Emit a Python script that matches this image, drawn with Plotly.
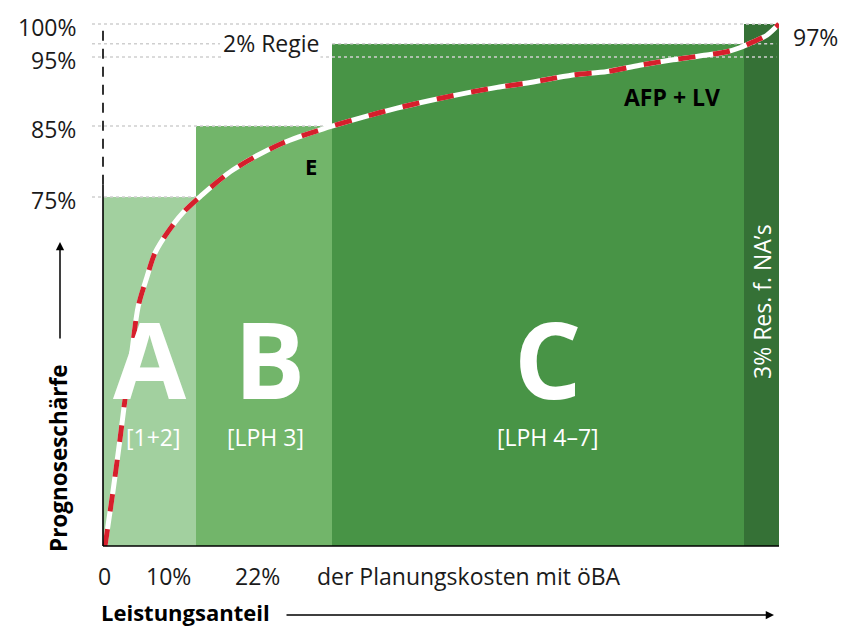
import numpy as np
import plotly.graph_objects as go

# ---------------- data ----------------
segment_names = ["A", "B", "C", "Res"]
segment_widths = [13.8, 20.1, 60.9, 5.2]      # horizontal share (schematic)
segment_levels = [75, 85, 97, 100]            # Prognoseschärfe in %
segment_colors = ["#a2d09f", "#72b56a", "#489446", "#357136"]
phase_labels = ["[1+2]", "[LPH 3]", "[LPH 4–7]"]

y_tick_vals = [75, 85, 95, 100]
y_tick_text = ["75%", "85%", "95%", "100%"]
x_tick_text = ["0", "10%", "22%", "der Planungskosten mit öBA"]

curve_x = [0.3, 1.5, 2.5, 3.3, 4.3, 5.2, 6.5, 7.7, 9.5, 11.8, 14.3, 19.2, 26.6,
           33.6, 38.5, 43.5, 48.4, 53.3, 58.3, 63.2, 69.5, 74.6, 79.4, 84.3,
           89.3, 92.3, 94.2, 96.2, 98.2, 100.0]
curve_y = [0.0, 12.0, 22.8, 32.0, 42.1, 51.4, 57.8, 63.0, 67.3, 71.6, 75.0, 78.8,
           82.6, 84.9, 86.3, 87.6, 88.7, 89.7, 90.6, 91.3, 92.4, 92.9, 93.8,
           94.6, 95.3, 95.8, 96.4, 97.3, 98.3, 100.0]

# schematic, piecewise-linear vertical scale of the original figure
scale_pct = [0, 75, 85, 95, 100]
scale_pos = [0, 66.86, 80.46, 93.68, 100]


def ys(v):
    return np.interp(v, scale_pct, scale_pos)


# pixel helpers for text placement (plot area: x 92..779, y 14..550)
def PX(x):
    return (x - 92) / 687


def PY(y):
    return (550 - y) / 536


FONT = "Open Sans"
TXT = "#1a1a1a"
FS = 23

widths = np.array(segment_widths)
centers = np.cumsum(widths) - widths / 2
edges = np.concatenate([[0], np.cumsum(widths)])

fig = go.Figure()

fig.add_trace(go.Bar(
    x=centers, y=ys(segment_levels), width=widths, base=0,
    marker=dict(color=segment_colors, line=dict(width=0)),
    hoverinfo="skip", showlegend=False,
))

# dotted guide lines
xl = -1.627
dot = dict(color="#cfcfcf", width=1.6, dash="dot")
guides = [
    ([xl, 100], [ys(100)] * 2),
    ([xl, 17.3, None, edges[2], 99.6], [ys(97), ys(97), None, ys(97), ys(97)]),
    ([xl, 99.6], [ys(95)] * 2),
    ([xl, edges[2]], [ys(85)] * 2),
    ([xl, edges[1]], [ys(75)] * 2),
]
for gx, gy in guides:
    fig.add_trace(go.Scatter(x=gx, y=gy, mode="lines", line=dot,
                             hoverinfo="skip", showlegend=False))

# curve
fig.add_trace(go.Scatter(x=curve_x, y=ys(curve_y), mode="lines",
                         line=dict(color="white", width=5, shape="spline", smoothing=0.9),
                         hoverinfo="skip", showlegend=False))
fig.add_trace(go.Scatter(x=curve_x, y=ys(curve_y), mode="lines",
                         line=dict(color="#d61f2c", width=5, shape="spline", smoothing=0.9,
                                   dash="17px,18px"),
                         hoverinfo="skip", showlegend=False))

shapes = [
    dict(type="line", xref="x", yref="y", x0=0, x1=100, y0=0, y1=0,
         line=dict(color="black", width=1.6)),
    dict(type="line", xref="x", yref="y", x0=0, x1=0, y0=0, y1=69.2,
         line=dict(color="black", width=1.6)),
    dict(type="line", xref="x", yref="y", x0=0, x1=0, y0=69.2, y1=98.9,
         line=dict(color="black", width=1.6, dash="10px,8px")),
]

ann = []
# y tick labels
for v, t in zip(y_tick_vals, y_tick_text):
    ann.append(dict(xref="paper", yref="y", x=PX(78), y=ys(v), text=t,
                    xanchor="right", yanchor="middle", yshift=-3, showarrow=False,
                    font=dict(family=FONT, size=23, color=TXT)))
# x labels
x_label_px = [104, 168, 257, 315]
for i, (p, t) in enumerate(zip(x_label_px, x_tick_text)):
    ann.append(dict(xref="paper", yref="paper", x=PX(p), y=PY(576), text=t,
                    xanchor="left" if i == 3 else "center", yanchor="middle",
                    showarrow=False, font=dict(family=FONT, size=FS, color=TXT)))

# big letters and phases
for i, name in enumerate(segment_names[:3]):
    cx = [149.5, 269.5, 548][i]
    ann.append(dict(xref="paper", yref="paper", x=PX(cx), y=PY(358), text=name,
                    showarrow=False, xanchor="center", yanchor="middle", height=84,
                    font=dict(family=FONT, size=106, color="white", weight="bold")))
    pcx = [153, 265, 548][i]
    ann.append(dict(xref="paper", yref="paper", x=PX(pcx), y=PY(437), text=phase_labels[i],
                    showarrow=False, xanchor="center", yanchor="middle",
                    font=dict(family=FONT, size=FS, color="white")))

ann += [
    dict(xref="paper", yref="paper", x=PX(321), y=PY(43), text="2% Regie",
         showarrow=False, xanchor="right", yanchor="middle", bgcolor="white",
         font=dict(family=FONT, size=FS, color=TXT)),
    dict(xref="paper", yref="paper", x=PX(311), y=PY(166), text="E",
         showarrow=False, xanchor="center", yanchor="middle",
         font=dict(family=FONT, size=22, color="black", weight="bold")),
    dict(xref="paper", yref="paper", x=PX(672), y=PY(97), text="AFP + LV",
         showarrow=False, xanchor="center", yanchor="middle",
         font=dict(family=FONT, size=23, color="black", weight="bold")),
    dict(xref="paper", yref="paper", x=PX(791), y=PY(37), text="97%",
         showarrow=False, xanchor="left", yanchor="middle",
         font=dict(family=FONT, size=23, color=TXT)),
    dict(xref="paper", yref="paper", x=PX(762), y=PY(302), text="3% Res. f. NA’s",
         showarrow=False, xanchor="center", yanchor="middle", textangle=-90,
         font=dict(family=FONT, size=23, color="white")),
    dict(xref="paper", yref="paper", x=PX(58), y=PY(458), text="Prognoseschärfe",
         showarrow=False, xanchor="center", yanchor="middle", textangle=-90,
         font=dict(family=FONT, size=22.5, color="black", weight="bold")),
    dict(xref="paper", yref="paper", x=PX(185), y=PY(612), text="Leistungsanteil",
         showarrow=False, xanchor="center", yanchor="middle",
         font=dict(family=FONT, size=22, color="black", weight="bold")),
    # arrows
    dict(xref="paper", yref="paper", x=PX(60), y=PY(242), ax=0, ay=98, text="",
         showarrow=True, arrowhead=2, arrowsize=1.1, arrowwidth=1.5, arrowcolor="black"),
    dict(xref="paper", yref="paper", x=PX(774), y=PY(615), ax=-489, ay=0, text="",
         showarrow=True, arrowhead=2, arrowsize=1.1, arrowwidth=1.5, arrowcolor="black"),
]

fig.update_layout(
    width=854, height=626,
    margin=dict(l=92, r=75, t=14, b=76),
    paper_bgcolor="white", plot_bgcolor="white",
    xaxis=dict(range=[xl, 100], visible=False, fixedrange=True),
    yaxis=dict(range=[-0.766, 101.92], visible=False, fixedrange=True),
    shapes=shapes, annotations=ann, bargap=0, showlegend=False,
)

fig.write_html("out.html", config={"displayModeBar": False},
               post_script="document.body.style.margin='0';document.body.style.overflow='hidden';")
